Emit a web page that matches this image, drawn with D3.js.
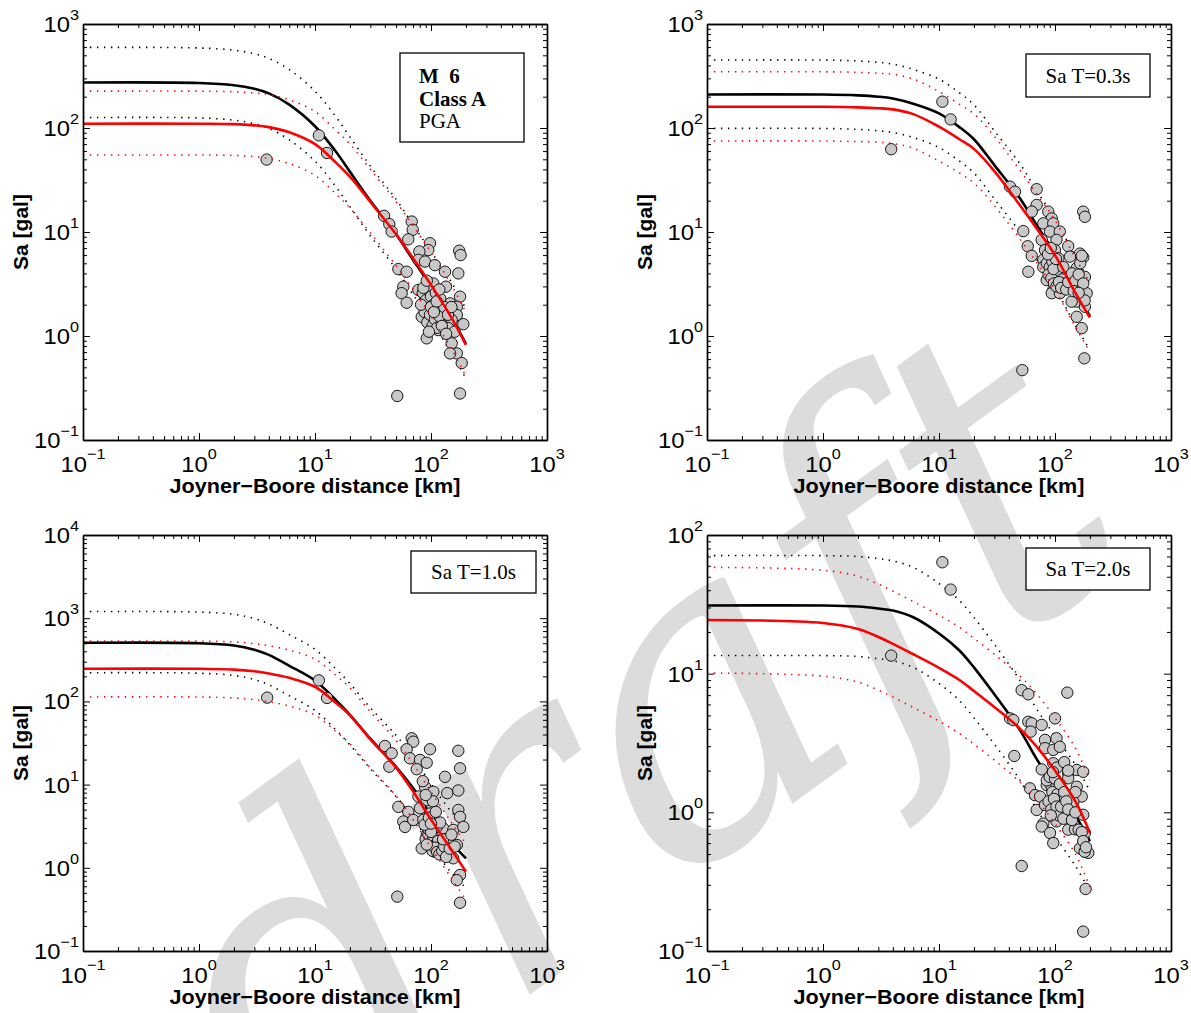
<!DOCTYPE html>
<html>
<head>
<meta charset="utf-8">
<script src="https://d3js.org/d3.v7.min.js"></script>
<style>
  body { margin: 0; background: #fff; }
  .axis line { stroke: #000; stroke-width: 1; }
  .axis path { stroke: #000; stroke-width: 1.4; }
</style>
</head>
<body>
<div id="chart"></div>
<script>
var distGrid = [0.1, 1, 2, 3, 4, 6, 10, 15, 20, 30, 50, 70, 100, 150, 200];

// tick values and exponent labels (10^n)
var xTickValues = [0.1, 1, 10, 100, 1000];
var xTickExps = ["\u22121", "0", "1", "2", "3"];
var yTicksTop = [0.1, 1, 10, 100, 1000];
var yExpsTop = ["\u22121", "0", "1", "2", "3"];
var yTicksBL = [0.1, 1, 10, 100, 1000, 10000];
var yExpsBL = ["\u22121", "0", "1", "2", "3", "4"];
var yTicksBR = [0.1, 1, 10, 100];
var yExpsBR = ["\u22121", "0", "1", "2"];

// ---- PGA ----
var pgaBlack   = [274, 271, 258, 238, 215, 168, 104, 60, 38, 20, 9.5, 5.4, 3.0, 1.5, 0.84];
var pgaBlackUp = [595, 588, 560, 517, 467, 365, 226, 130, 82, 43, 20.6, 11.7, 6.5, 3.3, 1.82];
var pgaBlackLo = [126, 125, 119, 110, 99, 77, 48, 27.6, 17.5, 9.2, 4.4, 2.5, 1.38, 0.69, 0.39];
var pgaRed     = [110, 110, 109, 106, 102, 91, 70, 47, 34, 19.5, 9.5, 5.6, 3.1, 1.5, 0.82];
var pgaRedUp   = [226, 226, 223, 217, 209, 187, 144, 96, 70, 40, 19.5, 11.5, 6.4, 3.1, 1.68];
var pgaRedLo   = [55, 55, 54.5, 53, 51, 45.5, 35, 23.5, 17, 9.8, 4.75, 2.8, 1.55, 0.75, 0.41];
var pgaPoints = [
  [3.83,49.7],[10.8,85],[12.7,57.6],
  [39.4,14.3],[43.7,11.9],[45.8,10.1],[68.2,12.6],[69.6,10.5],[63.7,8.5],[98,7.8],[94.8,6.7],
  [79.3,6.5],[175,6.6],[180,6.0],[77.8,5.4],[88.8,5.2],[108,4.8],[52.3,4.4],[61.7,4.15],
  [132,4.15],[172,4.0],[57.7,2.98],[55.8,2.58],[61.7,2.09],[104.7,3.2],[134.6,2.98],[77.8,2.77],
  [88.8,2.39],[178,2.39],[146,2.06],[167,1.91],[91.8,1.91],[104.7,1.71],[119.6,1.91],[83.2,1.53],
  [101,1.43],[127.6,1.53],[167,1.59],[190,1.30],[150.7,1.43],[91.8,0.95],[115.6,1.14],[141,1.19],
  [150.7,0.85],[167,0.68],[184,0.55],[146,0.68],[51.2,0.265],[178,0.28],
  [85,2.6],[90,2.2],[95,2.8],[100,2.4],[105,2.0],[110,2.6],[115,1.8],[120,2.3],[125,1.6],[88,1.7],
  [93,1.35],[98,1.6],[103,1.25],[108,1.45],[113,1.2],[118,1.55],[96,1.1],[124,1.25],[130,1.9],
  [82,2.0],[100,1.9],[106,1.7],[112,2.15],[86,2.9],[92,3.4],[118,2.8],[140,1.6],[150,1.9],
  [160,1.1],[135,1.05]
];

// ---- Sa T=0.3s ----
var t03Black   = [210, 210, 206, 200, 192, 171, 138, 102, 78, 44, 21, 11.5, 6.2, 2.7, 1.55];
var t03BlackUp = [450, 450, 441, 428, 411, 366, 295, 218, 167, 94, 45, 24.6, 13.3, 5.8, 3.3];
var t03BlackLo = [99, 99, 97, 94, 90.5, 81, 65, 48, 37, 20.8, 9.9, 5.4, 2.9, 1.27, 0.73];
var t03Red     = [160, 160, 158, 155, 151, 136, 103, 78, 63, 38.5, 18, 10.7, 6.0, 2.6, 1.5];
var t03RedUp   = [347, 347, 343, 336, 328, 296, 224, 169, 137, 83, 39, 23, 13, 5.6, 3.25];
var t03RedLo   = [75, 75, 74, 73, 71, 64, 48, 37, 29.6, 18, 8.5, 5.0, 2.8, 1.22, 0.70];
var t03Points = [
  [3.87,62.5],[10.7,179],[12.6,121],
  [40.9,27.3],[45.2,24.4],[69.5,25.8],[69.5,18.2],[63,15.7],[87.5,15.7],[93.7,13.5],[79.3,12.1],
  [96.6,12.1],[175,15.7],[181,14.0],[53.3,10.2],[90.6,10.1],[110,10.1],[76.8,8.4],[103,8.4],
  [58.2,7.3],[63,5.9],[82,6.7],[130,7.3],[100,6.7],[164,6.2],[175,5.7],[58.9,4.15],[79.3,5.4],
  [107,5.6],[134.6,5.8],[154,4.5],[181,3.7],[90.6,4.3],[114,4.3],[84.8,3.45],[103,3.45],[126,3.7],
  [96.6,2.77],[118,2.98],[144,3.1],[187.6,2.58],[154,2.14],[181,1.91],[154,1.53],[170,1.19],
  [179,0.61],[52.3,0.47],[79.3,4.6],[93.7,2.58],[110,2.58],[139,2.14],
  [85,5.0],[90,4.6],[95,5.2],[100,4.0],[105,4.7],[110,3.9],[115,3.5],[120,3.2],[88,3.9],[93,3.6],
  [98,3.2],[103,3.0],[108,3.3],[113,2.9],[97,4.4],[102,5.5],[87,6.1],[92,7.0],[118,4.6],[125,2.8],
  [130,3.3],[140,4.0],[150,3.4],[160,3.9],[165,5.0],[170,5.9],[175,3.2],[145,2.7],[180,2.2],[160,2.6]
];

// ---- Sa T=1.0s ----
var t10Black   = [506, 500, 470, 418, 362, 268, 178, 105, 69, 35.6, 16.4, 9.1, 4.3, 2.0, 1.3];
var t10BlackUp = [1200, 1185, 1114, 990, 858, 635, 422, 249, 164, 84, 39, 21.6, 10.2, 4.7, 3.1];
var t10BlackLo = [221, 218, 205, 183, 158, 117, 78, 46, 30, 15.5, 7.2, 4.0, 1.88, 0.87, 0.57];
var t10Red     = [247, 247, 241, 230, 217, 192, 150, 97, 68, 35, 16, 8.3, 3.8, 1.65, 0.9];
var t10RedUp   = [530, 530, 518, 494, 466, 413, 322, 208, 146, 75, 34, 17.8, 8.2, 3.5, 1.94];
var t10RedLo   = [113, 113, 110, 105, 99, 88, 68.5, 44, 31, 16, 7.3, 3.8, 1.75, 0.75, 0.41];
var t10Points = [
  [3.87,111],[10.8,179],[12.7,110],
  [68.2,36],[70.3,32.8],[61.7,26.6],[98,26.6],[172,25.5],[40.1,29.1],[45.8,23.8],[43.7,16.4],
  [65.9,20.7],[80.4,19.8],[91.8,18.3],[75.3,15.3],[178,15.7],[132,12.4],[88.8,9.4],[104.7,8.2],
  [138,7.9],[172,8.5],[52.3,5.4],[63.7,4.7],[77.8,7.2],[91.8,6.5],[80.4,5.2],[98,4.5],[172,4.95],
  [178,4.1],[57.7,3.6],[59.7,3.1],[70.3,3.76],[85.9,3.76],[127.6,2.98],[155.6,2.85],[190,3.1],
  [91.8,2.48],[108,2.48],[94.8,1.97],[119.6,1.97],[141,2.16],[167,1.88],[108,1.56],[132,1.49],
  [155.6,1.3],[178,0.82],[167,0.71],[51.2,0.45],[178,0.38],[112,3.1],[83.2,1.71],
  [90,2.2],[95,2.5],[100,2.0],[105,2.3],[110,1.9],[115,2.1],[120,1.7],[98,1.8],[103,1.6],[108,1.75],
  [113,1.55],[118,1.45],[125,1.6],[130,1.8],[95,2.9],[100,2.7],[92,1.9],[127,2.2],[135,1.35],
  [145,1.7],[150,2.5],[160,1.8],[88,3.3],[96,4.0],[104,6.3],[90,7.5],[85,11],[110,4.7],[120,3.5],[100,3.4]
];

// ---- Sa T=2.0s ----
var t20Black   = [31, 31, 30.5, 29.5, 28.5, 25.5, 19.5, 14.7, 11.1, 7.1, 3.9, 2.4, 1.55, 0.95, 0.62];
var t20BlackUp = [71, 71, 70, 67.5, 65, 58.4, 44.7, 33.7, 25.4, 16.3, 8.9, 5.5, 3.55, 2.2, 1.42];
var t20BlackLo = [13.5, 13.5, 13.3, 12.8, 12.4, 11.1, 8.5, 6.4, 4.8, 3.1, 1.7, 1.04, 0.67, 0.41, 0.27];
var t20Red     = [24.4, 23.2, 21.0, 18.4, 16.4, 13.8, 11.0, 9.0, 7.5, 5.75, 4.0, 2.95, 2.0, 1.2, 0.71];
var t20RedUp   = [58.5, 55.7, 50.4, 44.2, 39.4, 33.1, 26.4, 21.6, 18, 13.8, 9.6, 7.1, 4.8, 2.9, 1.7];
var t20RedLo   = [10.1, 9.6, 8.7, 7.6, 6.8, 5.7, 4.55, 3.7, 3.1, 2.38, 1.65, 1.22, 0.83, 0.5, 0.29];
var t20Points = [
  [3.87,13.5],[10.7,63.6],[12.6,40.4],
  [51.6,7.6],[58.9,7.1],[127.6,7.3],[40.9,4.76],[43.7,4.63],[58.9,4.5],[63,4.39],[76.8,4.27],
  [100,4.76],[61.6,3.82],[82,3.33],[103,3.42],[82,2.9],[96.6,2.82],[110,2.97],[44.6,2.55],
  [96.6,2.26],[76.8,2.04],[130,1.91],[154,2.02],[175,1.96],[60.8,1.49],[67.3,1.33],[74.3,1.30],
  [84.9,1.57],[93.7,1.53],[103,1.62],[110,1.45],[130,1.76],[154,1.53],[170,1.30],[69.5,1.04],
  [82,1.13],[100,1.16],[122,1.04],[144,1.19],[175,0.96],[79.3,0.83],[96.6,0.93],[110,1.01],
  [139,0.98],[76.8,0.79],[90.6,0.71],[96.6,0.60],[130,0.75],[148.6,0.755],[181,0.71],[164,0.55],
  [181,0.52],[193.6,0.51],[51.6,0.41],[183.5,0.28],[175,0.138],[110,1.23],[103,0.86],
  [85,1.7],[90,1.8],[95,1.4],[100,1.75],[105,1.35],[110,1.6],[115,1.2],[120,1.4],[88,1.2],[93,1.05],
  [98,1.25],[103,1.1],[108,0.95],[113,1.1],[118,0.9],[125,1.2],[130,1.05],[140,0.88],[150,1.0],
  [160,0.75],[170,0.72],[175,0.62],[180,0.52],[185,0.56],[92,0.95],[104,2.1],[96,1.95],[120,2.3],
  [130,2.0],[150,1.4]
];

// set the dimensions of each axes box
var width = 464, height = 416;
var textStretch = 1.08;

var panels = [
  {left: 83, top: 24, yDomain: [0.1, 1000], yTicks: yTicksTop, yExps: yExpsTop, points: pgaPoints,
   black: [pgaBlackUp, pgaBlackLo, pgaBlack], red: [pgaRedUp, pgaRedLo, pgaRed],
   legend: {x: 317, y: 29, w: 124, h: 89, lines: [["M\u00a0\u00a06", true], ["Class A", true], ["PGA", false]], align: "start"}},
  {left: 707, top: 24, yDomain: [0.1, 1000], yTicks: yTicksTop, yExps: yExpsTop, points: t03Points,
   black: [t03BlackUp, t03BlackLo, t03Black], red: [t03RedUp, t03RedLo, t03Red],
   legend: {x: 319, y: 30, w: 124, h: 43, lines: [["Sa T=0.3s", false]], align: "middle"}},
  {left: 83, top: 535, yDomain: [0.1, 10000], yTicks: yTicksBL, yExps: yExpsBL, points: t10Points,
   black: [t10BlackUp, t10BlackLo, t10Black], red: [t10RedUp, t10RedLo, t10Red],
   legend: {x: 328, y: 16, w: 125, h: 42, lines: [["Sa T=1.0s", false]], align: "middle"}},
  {left: 707, top: 535, yDomain: [0.1, 100], yTicks: yTicksBR, yExps: yExpsBR, points: t20Points,
   black: [t20BlackUp, t20BlackLo, t20Black], red: [t20RedUp, t20RedLo, t20Red],
   legend: {x: 319, y: 13, w: 124, h: 42, lines: [["Sa T=2.0s", false]], align: "middle"}}
];

var svg = d3.select("#chart")
  .append("svg")
    .attr("width", 1191)
    .attr("height", 1013);

// light gray "draft" watermark behind everything
svg.append("text")
  .attr("transform", "translate(715,860) rotate(-36)")
  .attr("text-anchor", "middle")
  .style("font-family", "DejaVu Serif")
  .style("font-style", "italic")
  .style("font-size", "430px")
  .attr("fill", "#dcdcdc")
  .text("draft");

// sans text with the horizontal stretch of the original figure
function sansText(parent, x, y, size) {
  return parent.append("text")
    .attr("transform", "translate(" + x + "," + y + ") scale(" + textStretch + ",1)")
    .style("font-family", "'Liberation Sans', Arial, sans-serif")
    .style("font-size", size + "px")
    .attr("fill", "#000");
}

function drawPanel(p) {
  var g = svg.append("g")
    .attr("transform", "translate(" + p.left + "," + p.top + ")");

  var x = d3.scaleLog().domain([0.1, 1000]).range([0, width]);
  var y = d3.scaleLog().domain(p.yDomain).range([height, 0]);

  // model curves: the last of each set is the median (solid), the others +/- sigma (dotted)
  var line = d3.line()
    .x(function(d, i) { return x(distGrid[i]); })
    .y(function(d) { return y(d); })
    .curve(d3.curveCatmullRom.alpha(0.5));
  function drawCurves(set, color) {
    set.forEach(function(vals, k) {
      var solid = k === set.length - 1;
      g.append("path")
        .datum(vals)
        .attr("d", line)
        .attr("fill", "none")
        .attr("stroke", color)
        .attr("stroke-width", solid ? 2.6 : 1.6)
        .attr("stroke-dasharray", solid ? null : "1.4,5.6");
    });
  }

  drawCurves(p.black, "#000");

  // observed records
  g.append("g").selectAll("circle")
    .data(p.points)
    .enter()
    .append("circle")
      .attr("cx", function(d) { return x(d[0]); })
      .attr("cy", function(d) { return y(d[1]); })
      .attr("r", 5.7)
      .attr("fill", "#c8c8c8")
      .attr("stroke", "#000")
      .attr("stroke-width", 0.9);

  drawCurves(p.red, "#ff0000");

  // axes on all four sides, ticks pointing inwards
  var xMinor = x.ticks().filter(function(v) { return xTickValues.indexOf(v) < 0; });
  var yMinor = y.ticks().filter(function(v) { return p.yTicks.indexOf(v) < 0; });
  var sides = [
    {axis: d3.axisBottom(x), t: "translate(0," + height + ")", major: xTickValues, minor: xMinor},
    {axis: d3.axisTop(x), t: "translate(0,0)", major: xTickValues, minor: xMinor},
    {axis: d3.axisLeft(y), t: "translate(0,0)", major: p.yTicks, minor: yMinor},
    {axis: d3.axisRight(y), t: "translate(" + width + ",0)", major: p.yTicks, minor: yMinor}
  ];
  sides.forEach(function(s) {
    g.append("g").attr("class", "axis").attr("transform", s.t)
      .call(s.axis.tickValues(s.minor).tickSize(-4).tickSizeOuter(0).tickFormat(""));
    g.append("g").attr("class", "axis").attr("transform", s.t)
      .call(s.axis.tickValues(s.major).tickSize(-7).tickSizeOuter(0).tickFormat(""));
  });

  // tick labels 10^n
  xTickValues.forEach(function(v, i) {
    var t = sansText(g, x(v), height + 32, 22).attr("text-anchor", "middle");
    t.append("tspan").text("10");
    t.append("tspan").attr("dy", -13).style("font-size", "15px").text(xTickExps[i]);
  });
  p.yTicks.forEach(function(v, i) {
    var t = sansText(g, -4, y(v) + 8, 22).attr("text-anchor", "end");
    t.append("tspan").text("10");
    t.append("tspan").attr("dy", -12).style("font-size", "15px").text(p.yExps[i]);
  });

  // axis titles
  sansText(g, width / 2, height + 53, 20)
    .attr("text-anchor", "middle")
    .attr("font-weight", "bold")
    .text("Joyner\u2212Boore distance [km]");
  g.append("text")
    .attr("transform", "translate(-55," + (height / 2) + ") rotate(-90)")
    .attr("text-anchor", "middle")
    .style("font-family", "'Liberation Sans', Arial, sans-serif")
    .style("font-size", "21px")
    .attr("font-weight", "bold")
    .text("Sa [gal]");

  // legend box
  var L = p.legend;
  g.append("rect")
    .attr("x", L.x).attr("y", L.y)
    .attr("width", L.w).attr("height", L.h)
    .attr("fill", "#fff")
    .attr("stroke", "#000")
    .attr("stroke-width", 1.3);
  L.lines.forEach(function(ln, i) {
    var tx = L.align === "start" ? L.x + 19 : L.x + L.w / 2;
    var ty = L.lines.length > 1 ? L.y + 30 + i * 22.5 : L.y + L.h / 2 + 7;
    g.append("text")
      .attr("transform", "translate(" + tx + "," + ty + ") scale(1.05,1)")
      .attr("text-anchor", L.align)
      .style("font-family", "'Liberation Serif', 'Times New Roman', serif")
      .style("font-size", "20px")
      .attr("font-weight", ln[1] ? "bold" : "normal")
      .text(ln[0]);
  });
}

panels.forEach(drawPanel);
</script>
</body>
</html>
